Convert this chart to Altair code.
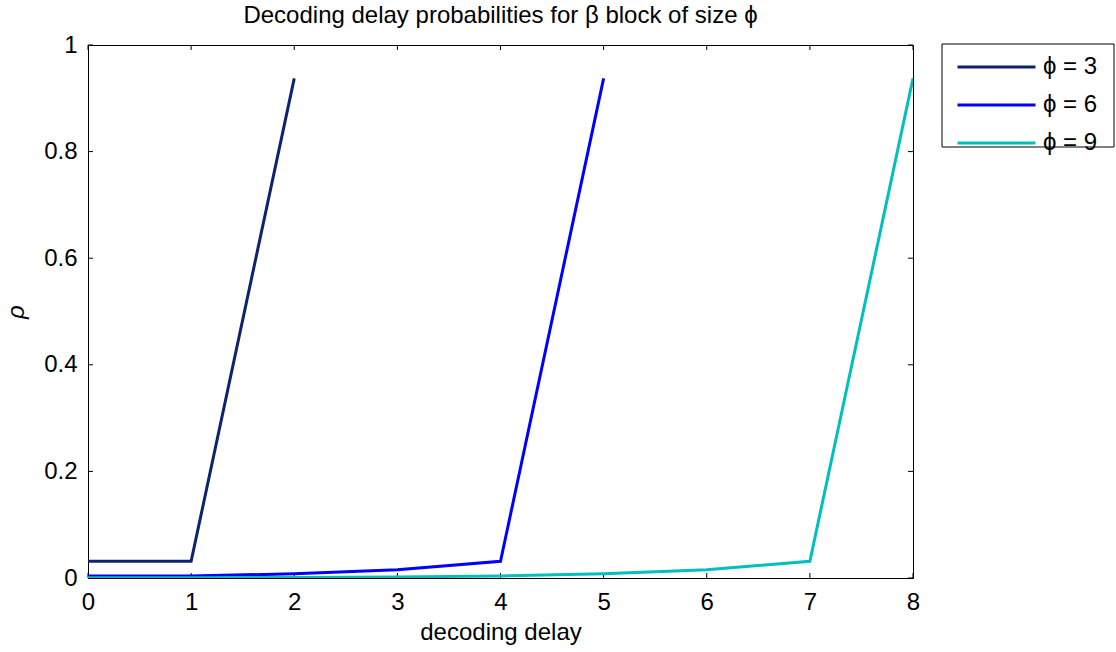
import altair as alt
import pandas as pd

# Decoding delay probabilities for three block sizes
series_names = ["ϕ = 3", "ϕ = 6", "ϕ = 9"]
series_colors = ["#0c2470", "#0000ff", "#00bfbf"]

delay_3 = [0, 1, 2]
rho_3 = [0.03125, 0.03125, 0.9375]

delay_6 = [0, 1, 2, 3, 4, 5]
rho_6 = [0.00390625, 0.00390625, 0.0078125, 0.015625, 0.03125, 0.9375]

delay_9 = [0, 1, 2, 3, 4, 5, 6, 7, 8]
rho_9 = [0.00048828, 0.00048828, 0.00097656, 0.00195312, 0.00390625,
         0.0078125, 0.015625, 0.03125, 0.9375]

x_ticks = [0, 1, 2, 3, 4, 5, 6, 7, 8]
y_ticks = [0, 0.2, 0.4, 0.6, 0.8, 1.0]

W, H = 825, 533
TICK = 5
FONT = "Liberation Sans"

rows = []
for name, xs, ys in zip(series_names, [delay_3, delay_6, delay_9], [rho_3, rho_6, rho_9]):
    for x, y in zip(xs, ys):
        rows.append({"delay": x, "rho": y, "series": name})
df = pd.DataFrame(rows)

xscale = alt.Scale(domain=[0, 8], nice=False, zero=False)
yscale = alt.Scale(domain=[0, 1], nice=False, zero=False)

lines = alt.Chart(df).mark_line(strokeWidth=3, clip=True).encode(
    x=alt.X("delay:Q", scale=xscale,
            axis=alt.Axis(values=x_ticks, title="decoding delay", format="d")),
    y=alt.Y("rho:Q", scale=yscale,
            axis=alt.Axis(values=y_ticks, title="ρ", format="~g")),
    color=alt.Color("series:N",
                    scale=alt.Scale(domain=series_names, range=series_colors),
                    legend=alt.Legend(title=None)),
)

# inward tick marks on all four sides of the box
xt = pd.DataFrame({"t": x_ticks})
yt = pd.DataFrame({"t": y_ticks})
tick_style = dict(color="black", strokeWidth=1)
bottom_ticks = alt.Chart(xt).mark_rule(**tick_style).encode(
    x=alt.X("t:Q", scale=xscale), y=alt.value(H), y2=alt.value(H - TICK))
top_ticks = alt.Chart(xt).mark_rule(**tick_style).encode(
    x=alt.X("t:Q", scale=xscale), y=alt.value(0), y2=alt.value(TICK))
left_ticks = alt.Chart(yt).mark_rule(**tick_style).encode(
    y=alt.Y("t:Q", scale=yscale), x=alt.value(0), x2=alt.value(TICK))
right_ticks = alt.Chart(yt).mark_rule(**tick_style).encode(
    y=alt.Y("t:Q", scale=yscale), x=alt.value(W), x2=alt.value(W - TICK))

# frame around the legend entries, to the right of the plot box
legend_frame = alt.Chart(pd.DataFrame({"k": [0]})).mark_rect(
    fill="white", stroke="black", strokeWidth=1, clip=False
).encode(
    x=alt.value(W + 29), x2=alt.value(W + 201),
    y=alt.value(-1), y2=alt.value(102),
)

chart = alt.layer(
    legend_frame, bottom_ticks, top_ticks, left_ticks, right_ticks, lines
).properties(
    width=W,
    height=H,
    title=alt.TitleParams(
        "Decoding delay probabilities for β block of size ϕ",
        fontSize=24, font=FONT, fontWeight="normal",
        color="black", anchor="middle", offset=5,
    ),
    autosize=alt.AutoSizeParams(type="none"),
    padding={"left": 88, "top": 45, "right": 203, "bottom": 74},
    background="white",
).configure_view(
    stroke="black", strokeWidth=1
).configure_axis(
    domain=False, grid=False, ticks=False, labelFlush=False,
    labelFont=FONT, labelFontSize=24, labelColor="black",
    titleFont=FONT, titleFontWeight="normal", titleColor="black",
).configure_axisX(
    titleFontSize=24, titlePadding=6, labelPadding=12,
).configure_axisY(
    titleFontSize=24, titleFontStyle="italic", titlePadding=15, titleAngle=270,
    labelPadding=11,
).configure_legend(
    orient="none", legendX=W + 43, legendY=10,
    padding=0, strokeColor="transparent",
    symbolType="stroke", symbolStrokeWidth=3, symbolSize=6084, symbolOffset=0,
    labelFont=FONT, labelFontSize=24, labelColor="black",
    clipHeight=24, rowPadding=14, labelOffset=6,
)

chart.save("out.html", embed_options={"renderer": "svg", "actions": False})
